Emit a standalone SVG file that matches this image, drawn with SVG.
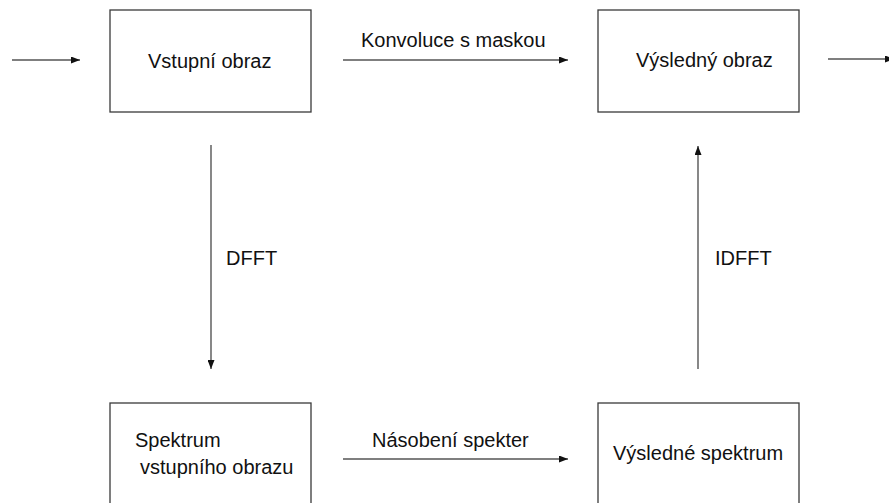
<svg xmlns="http://www.w3.org/2000/svg" width="889" height="503" viewBox="0 0 889 503">
<defs>
<marker id="ah" viewBox="0 0 9 7" refX="9" refY="3.5" markerWidth="9" markerHeight="7" markerUnits="userSpaceOnUse" orient="auto">
<path d="M0,0 L9,3.5 L0,7 Z" fill="#111"/>
</marker>
<style>
.box{fill:#fff;stroke:#3a3a3a;stroke-width:1.3}
.lbl{font-family:"Liberation Sans",Arial,sans-serif;font-size:20px;fill:#111}
.con{stroke:#555;stroke-width:1.4;fill:none;marker-end:url(#ah)}
</style>
</defs>
<rect width="889" height="503" fill="#fff"/>
<g id="node-vstupni">
<rect class="box" x="110" y="10" width="201" height="102"/>
<text class="lbl" x="148" y="68">Vstupní obraz</text>
</g>
<g id="node-vysledny">
<rect class="box" x="598" y="10" width="201" height="102"/>
<text class="lbl" x="636" y="67">Výsledný obraz</text>
</g>
<g id="node-spektrum">
<rect class="box" x="110" y="403" width="201" height="110"/>
<text class="lbl" x="135" y="447">Spektrum</text>
<text class="lbl" x="140" y="474">vstupního obrazu</text>
</g>
<g id="node-vysledne-spektrum">
<rect class="box" x="598" y="403" width="201" height="110"/>
<text class="lbl" x="613" y="460">Výsledné spektrum</text>
</g>
<g id="connectors">
<line class="con" x1="12" y1="60" x2="80" y2="60"/>
<line class="con" x1="343" y1="60" x2="568" y2="60"/>
<text class="lbl" x="361" y="47">Konvoluce s maskou</text>
<line class="con" x1="828" y1="59" x2="894" y2="59"/>
<line class="con" x1="211" y1="145" x2="211" y2="369"/>
<text class="lbl" x="226" y="265">DFFT</text>
<line class="con" x1="698" y1="369" x2="698" y2="146"/>
<text class="lbl" x="715" y="265">IDFFT</text>
<line class="con" x1="343" y1="459" x2="568" y2="459"/>
<text class="lbl" x="372" y="447">Násobení spekter</text>
</g>
</svg>
